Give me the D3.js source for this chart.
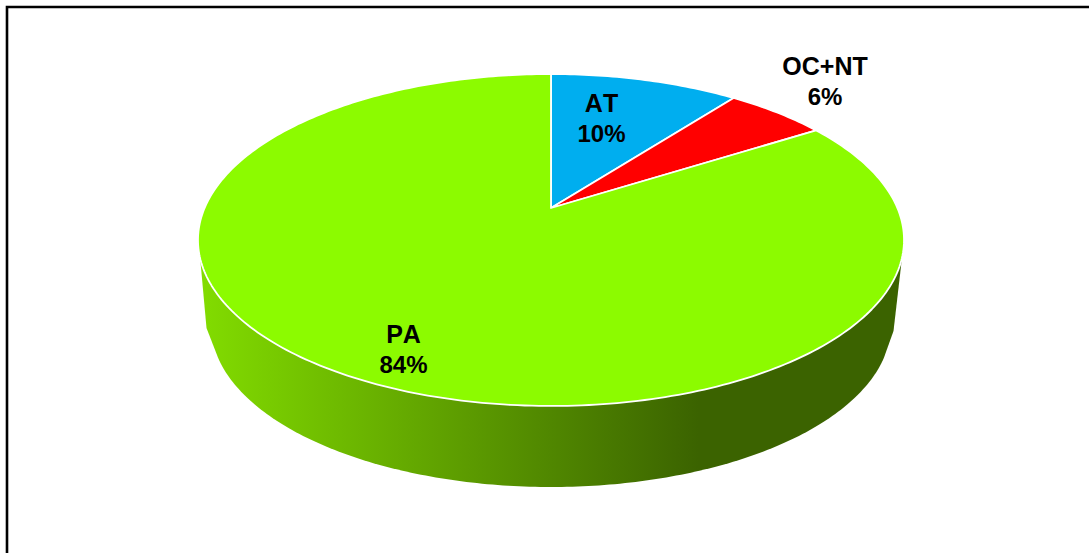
<!DOCTYPE html>
<html><head><meta charset="utf-8">
<script src="https://cdn.jsdelivr.net/npm/d3@7/dist/d3.min.js"></script>
<style>html,body{margin:0;padding:0;background:#fff;overflow:hidden}svg{display:block}
text{font-family:"Liberation Sans",Arial,sans-serif;font-weight:700;fill:#000;text-anchor:middle;font-kerning:none}</style>
</head><body><svg id="c" width="1089" height="553"></svg>
<script>
const categories = ["AT", "OC+NT", "PA"];
const values = [10.4, 5.6, 84];
const colors = ["#00AEEF", "#FF0000", "#8CFB00"];
const labelAnchors = [[601.5, 112], [825, 75], [403.5, 343]];
const wallStops = [[0, "#82DC00"], [0.71, "#3B6300"], [1, "#3B6300"]];

const W = 1089, H = 553;
const svg = d3.select("#c");
const cx = 551, apexY = 208, A = 346.4, B = 159.8, k = 0.1928;
const x = d3.scaleLinear().domain([-1, 1]).range([cx - A, cx + A]);
const y = d3.scaleLinear().domain([-1, 1]).range([apexY + B, apexY - B]);
const project = t => {
  const d = 1 + k * Math.cos(t);
  return [x(Math.sin(t) / d), y(Math.cos(t) / d)];
};
const line = d3.line();
const defs = svg.append("defs");
const grad = defs.append("linearGradient").attr("id", "wall")
  .attr("gradientUnits", "userSpaceOnUse").attr("x1", 200).attr("x2", 902).attr("y1", 0).attr("y2", 0);
wallStops.forEach(s => grad.append("stop").attr("offset", s[0]).attr("stop-color", s[1]));

// Side wall
const botRx = 340, botRy = 162, botCy = 325;
const bottom = d3.range(0, 1.0001, 0.005).map(f => {
  const a = Math.PI * (1 - f);
  return [cx + botRx * Math.cos(a), botCy + botRy * Math.sin(a)];
}).filter(p => p[1] >= 356);
svg.append("path").attr("fill", "url(#wall)")
  .attr("d", line([[200.5, 262], [206.5, 328], ...bottom, [893.5, 331], [901.5, 262], [901, 240], [201, 240]]) + "Z");

// Top slices
const pie = d3.pie().sort(null).value(d => d)(values);
svg.selectAll("path.slice").data(pie).join("path").attr("class", "slice")
  .attr("fill", (d, i) => colors[i]).attr("stroke", "#fff").attr("stroke-width", 1.8)
  .attr("stroke-linejoin", "round")
  .attr("d", d => {
    const n = Math.max(8, Math.ceil((d.endAngle - d.startAngle) * 60));
    const pts = d3.range(n + 1).map(i => project(d.startAngle + (d.endAngle - d.startAngle) * i / n));
    return line([[x(0), y(0)], ...pts]) + "Z";
  });

// Labels
categories.forEach((c, i) => {
  const [lx, ly] = labelAnchors[i];
  svg.append("text").attr("x", lx).attr("y", ly).attr("font-size", 25).text(c);
  svg.append("text").attr("x", lx).attr("y", ly + 30).attr("font-size", 24).text(Math.round(values[i]) + "%");
});

// Frame (top and left only are in view)
svg.append("path").attr("fill", "none").attr("stroke", "#000").attr("stroke-width", 2.6)
  .attr("d", line([[7, H], [7, 7], [W, 7]]));
</script></body></html>
